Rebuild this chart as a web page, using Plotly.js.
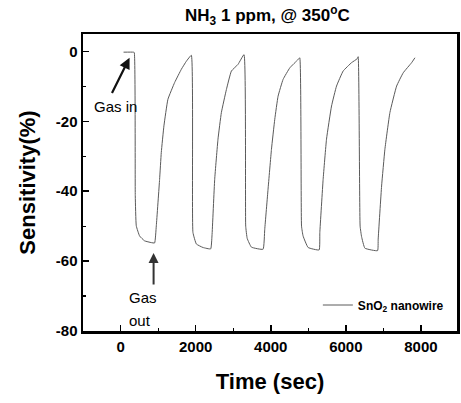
<!DOCTYPE html>
<html>
<head>
<meta charset="utf-8">
<script src="https://cdn.plot.ly/plotly-3.0.1.min.js"></script>
<style>html,body{margin:0;padding:0;background:#fff;}#chart{width:461px;height:403px;}</style>
</head>
<body>
<div id="chart"></div>
<script>
// Time (sec)
const timeSec = [80, 340, 365, 392, 419, 507, 640, 819, 907,
  952, 1040, 1085, 1155, 1261, 1440, 1619, 1752, 1885,
  1928, 2019, 2195, 2400,
  2435, 2507, 2595, 2685, 2819, 2952, 3128, 3288,
  3333, 3373, 3485, 3795,
  3840, 3928, 4019, 4107, 4195, 4328, 4507, 4728, 4773,
  4820, 4861, 4995, 5288,
  5307, 5395, 5485, 5619, 5752, 5928, 6152, 6301, 6328,
  6380, 6419, 6507, 6845,
  6861, 6952, 7040, 7173, 7352, 7528, 7752, 7840];
// Sensitivity (%)
const sensitivity = [-0.2, -0.2, -0.3, -41.3, -49.9, -52.8, -54.2, -54.7, -54.8,
  -49.9, -36.6, -28.9, -21.3, -13.7, -8.9, -5.1, -2.8, -1.1,
  -51.8, -55.1, -56.1, -56.5,
  -52.8, -36.6, -25.1, -17.5, -10.9, -5.6, -3.7, -0.9,
  -50.0, -53.5, -56.0, -56.6,
  -50.9, -39.4, -28.0, -19.4, -12.8, -8.0, -4.7, -2.3, -1.8,
  -50.0, -52.8, -56.1, -56.8,
  -51.8, -36.6, -25.1, -15.6, -9.9, -5.6, -3.2, -2.1, -1.5,
  -50.0, -53.0, -56.3, -57.0,
  -53.7, -38.5, -28.0, -17.5, -9.9, -6.1, -3.2, -1.8];
const seriesName = 'SnO<sub>2</sub> nanowire';
const xTickVals = [0, 2000, 4000, 6000, 8000];
const yTickVals = [0, -20, -40, -60, -80];

const FONT = 'Arial, "Liberation Sans", Helvetica, sans-serif';

const trace = {
  x: timeSec, y: sensitivity, type: 'scatter', mode: 'lines',
  name: seriesName,
  line: {color: '#5a5a5a', width: 1, shape: 'spline', smoothing: 0.35}
};

const layout = {
  width: 461, height: 403,
  margin: {l: 83, r: 4, t: 34, b: 72},
  paper_bgcolor: '#ffffff', plot_bgcolor: '#ffffff',
  font: {family: FONT, color: '#000'},
  title: {text: 'NH<sub>3</sub> 1 ppm, @ 350<sup>o</sup>C', font: {size: 17, weight: 'bold', family: FONT},
          x: 0.58, xanchor: 'center', y: 0.962, yanchor: 'middle'},
  showlegend: true,
  legend: {x: 0.628, xanchor: 'left', y: 0.0875, yanchor: 'middle', bgcolor: 'rgba(0,0,0,0)',
           font: {size: 12, weight: 'bold', family: FONT}},
  xaxis: {
    range: [-1000, 8960], tickvals: xTickVals, ticktext: xTickVals.map(String),
    ticks: 'inside', ticklen: 6, tickwidth: 1.5, tickcolor: '#000',
    minor: {dtick: 1000, ticks: 'inside', ticklen: 3, tickwidth: 1.2, tickcolor: '#000'},
    showline: true, linewidth: 2.5, linecolor: '#000', mirror: true,
    showgrid: false, zeroline: false,
    tickfont: {size: 15, weight: 'bold', family: FONT},
    title: {text: 'Time (sec)', font: {size: 22, weight: 'bold', family: FONT}, standoff: 20}
  },
  yaxis: {
    range: [-80, 5], tickvals: yTickVals, ticktext: yTickVals.map(String),
    ticks: 'inside', ticklen: 6, tickwidth: 1.5, tickcolor: '#000',
    minor: {dtick: 10, ticks: 'inside', ticklen: 3, tickwidth: 1.2, tickcolor: '#000'},
    showline: true, linewidth: 2.5, linecolor: '#000', mirror: true,
    showgrid: false, zeroline: false,
    tickfont: {size: 15, weight: 'bold', family: FONT},
    title: {text: 'Sensitivity(%)', font: {size: 22, weight: 'bold', family: FONT}, standoff: 14}
  },
  annotations: [
    {x: -133, y: -15.7, xref: 'x', yref: 'y', text: 'Gas in', showarrow: false,
     font: {size: 15, family: FONT, color: '#000'}},
    {x: 240, y: -1.8, ax: -248, ay: -12.3, xref: 'x', yref: 'y', axref: 'x', ayref: 'y',
     text: '', showarrow: true, arrowhead: 2, arrowsize: 1, arrowwidth: 2.2, arrowcolor: '#111'},
    {x: 880, y: -57.7, ax: 880, ay: -67.1, xref: 'x', yref: 'y', axref: 'x', ayref: 'y',
     text: '', showarrow: true, arrowhead: 2, arrowsize: 1, arrowwidth: 2, arrowcolor: '#333'},
    {x: 160, y: -70.3, xref: 'x', yref: 'y', xanchor: 'left', text: 'Gas', showarrow: false,
     font: {size: 15, family: FONT, color: '#000'}},
    {x: 160, y: -77.1, xref: 'x', yref: 'y', xanchor: 'left', text: 'out', showarrow: false,
     font: {size: 15, family: FONT, color: '#000'}}
  ]
};

Plotly.newPlot('chart', [trace], layout, {displayModeBar: false, staticPlot: true});
</script>
</body>
</html>
